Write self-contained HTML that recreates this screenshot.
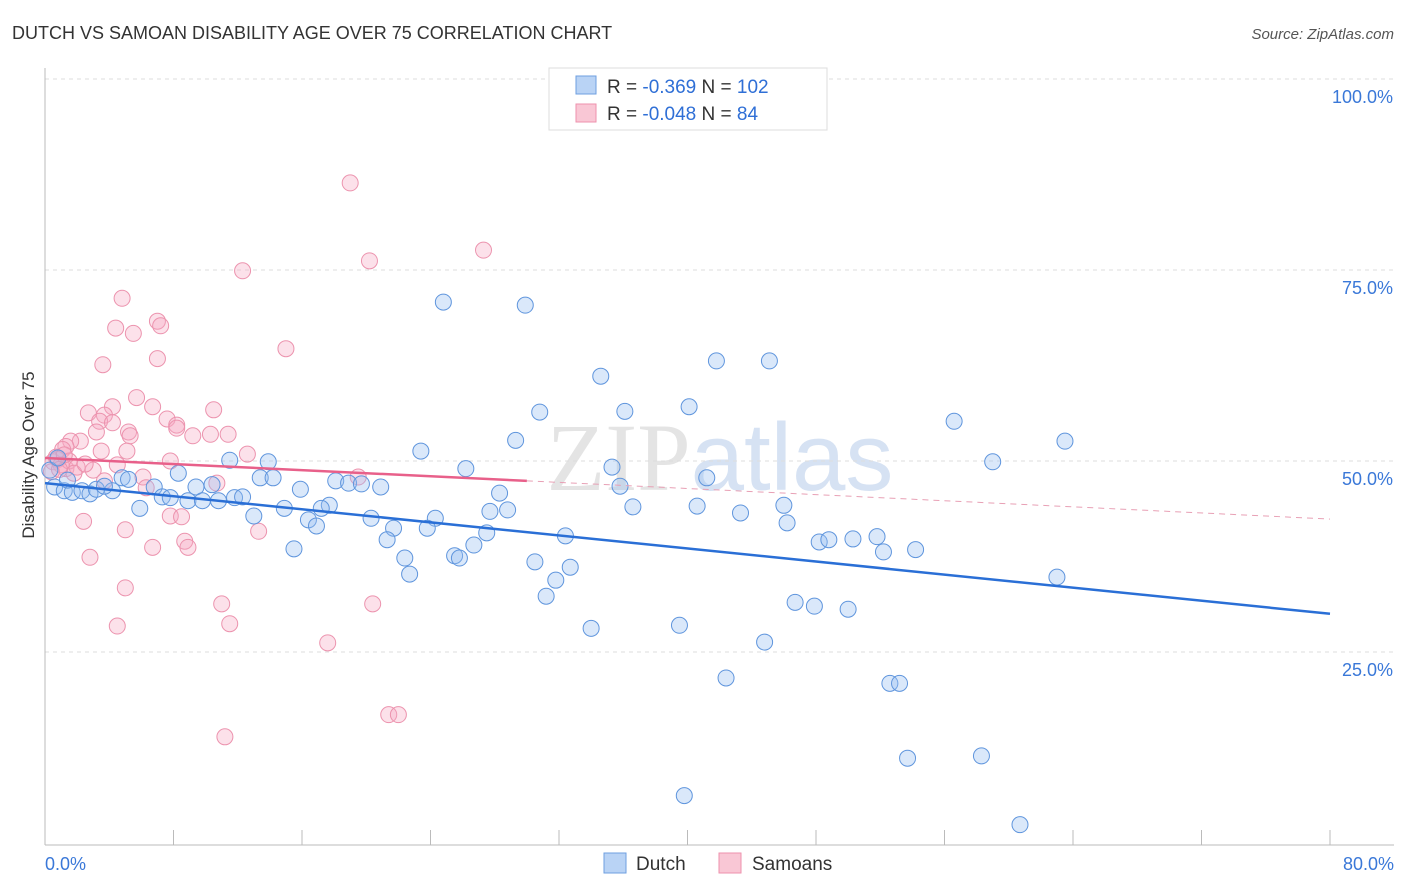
<!DOCTYPE html>
<html><head><meta charset="utf-8"><style>
body{margin:0;background:#fff;font-family:"Liberation Sans",sans-serif}
svg{display:block}
</style></head><body>
<svg id="c" width="1406" height="892">
<text x="12" y="39" font-size="18" fill="#333">DUTCH VS SAMOAN DISABILITY AGE OVER 75 CORRELATION CHART</text>
<text x="1394" y="39" font-size="15" fill="#555" font-style="italic" text-anchor="end">Source: ZipAtlas.com</text>
<text x="720" y="490" font-size="96" fill="#e4e4e4" text-anchor="middle" font-family="Liberation Serif">ZIP<tspan fill="#d6e2f3" font-family="Liberation Sans">atlas</tspan></text>
<g id="grid"></g><g id="marks"></g>
<text transform="translate(34,455) rotate(-90)" font-size="17" fill="#333" text-anchor="middle">Disability Age Over 75</text>
<g>
<rect x="549" y="68" width="278" height="62" fill="#fff" stroke="#ddd"/>
<rect x="576" y="76" width="20" height="18" fill="#b9d3f5" stroke="#6e9fe0"/>
<rect x="576" y="104" width="20" height="18" fill="#f9c7d5" stroke="#ee92ad"/>
<text x="607" y="93" font-size="19" fill="#333">R = <tspan fill="#2f6fd6">-0.369</tspan>   N = <tspan fill="#2f6fd6">102</tspan></text>
<text x="607" y="120" font-size="19" fill="#333">R = <tspan fill="#2f6fd6">-0.048</tspan>   N = <tspan fill="#2f6fd6">  84</tspan></text>
</g>
<g>
<rect x="604" y="853" width="22" height="20" fill="#b9d3f5" stroke="#6e9fe0"/>
<text x="636" y="870" font-size="19" fill="#333">Dutch</text>
<rect x="719" y="853" width="22" height="20" fill="#f9c7d5" stroke="#ee92ad"/>
<text x="752" y="870" font-size="19" fill="#333">Samoans</text>
</g>
</svg>
<script>
const yTicks=[25,50,75,100];
const xTickLabels=["0.0%","80.0%"];
const dutchX=[24.8,29.9,41.8,45.1,34.6,40.1,30.8,36.1,56.6,63.5,23.4,29.3,59,35.3,26.2,41.2,35.8,11.5,13.9,8.3,13.4,14.2,4.8,6.8,10.4,9.4,15.9,18.1,18.9,19.7,20.9,28.3,7.3,7.8,8.9,9.8,10.8,11.8,12.3,14.9,17.7,17.2,5.9,13,16.4,16.9,20.3,24.3,27.7,28.8,36.6,40.6,43.3,46,46.2,21.7,23.8,21.3,27.5,32.4,26.7,25.5,25.8,22.4,15.5,30.5,32.7,31.8,22.7,31.2,48.2,48.8,50.3,51.8,52.2,54.2,46.7,47.9,50,63,34,39.5,44.8,42.4,52.6,53.2,53.7,58.3,39.8,60.7,0.6,1.2,1.7,2.3,2.8,3.2,4.2,3.7,0.3,0.8,1.4,5.2];
const dutchY=[70.8,70.4,63.1,63.1,61.1,57.1,56.4,56.5,55.2,52.6,51.3,52.7,49.9,49.2,49,47.8,46.7,50.1,49.9,48.4,47.8,47.8,47.8,46.6,46.9,46.6,46.3,47.4,47.1,47,46.6,45.8,45.3,45.2,44.8,44.8,44.8,45.2,45.3,43.8,44.2,43.8,43.8,42.8,42.3,41.5,42.5,42.5,43.4,43.6,44,44.1,43.2,44.2,41.9,41.2,41.2,39.7,40.6,40.2,39,37.6,37.3,37.3,38.5,36.8,36.1,34.4,35.2,32.3,39.4,39.7,39.8,40.1,38.1,38.4,31.5,31,30.6,34.8,28.1,28.5,26.3,21.6,20.9,20.9,11.1,11.4,6.2,2.4,46.6,46.1,45.9,46.1,45.7,46.3,46.1,46.7,48.8,50.4,47.5,47.6];
const samX=[19,27.3,20.2,12.3,4.8,7,7.2,4.4,5.5,15,3.6,7,5.7,4.2,2.7,6.7,7.6,8.2,8.2,10.5,3.7,3.4,4.2,5.2,5.3,3.2,9.2,10.3,11.4,2.2,1.6,1.3,1.1,3.5,5.1,12.6,7.8,4.5,3,6.1,3.7,10.7,6.3,19.5,2.4,7.8,8.5,5,8.7,8.9,6.7,13.3,2.8,5,11,20.4,4.5,11.5,17.6,21.4,22,11.2,0.5,0.8,1.0,1.3,0.4,0.7,1.5,2,1.8,0.9,1.2,2.5];
const samY=[86.4,77.6,76.2,74.9,71.3,68.3,67.7,67.4,66.7,64.7,62.6,63.4,58.3,57.1,56.3,57.1,55.5,54.7,54.3,56.7,56,55.2,55,53.8,53.3,53.8,53.3,53.5,53.5,52.6,52.6,51.9,51.5,51.3,51.3,50.9,50,49.5,48.8,47.9,47.4,47.1,46.5,47.9,42.1,42.8,42.7,41,39.5,38.7,38.7,40.8,37.4,33.4,31.3,31.3,28.4,28.7,26.2,16.8,16.8,13.9,49.9,50.2,49.5,49,48.6,50.5,50,49.2,48.4,48.9,50.8,49.6];
const dutchLine=[47.1,30.0], samLine=[50.4,42.4], samSolidEnd=30;
const NS="http://www.w3.org/2000/svg";
const X=v=>45+v/80*1285, Y=v=>843-v/100*764;
function el(t,a,p){const e=document.createElementNS(NS,t);for(const k in a)e.setAttribute(k,a[k]);p.appendChild(e);return e;}
const g=document.getElementById('grid'), m=document.getElementById('marks');
yTicks.forEach(t=>{
 const l=el('line',{x1:45,x2:1394,y1:Y(t),y2:Y(t),stroke:'#ddd','stroke-dasharray':'4,4'},g);
 
 
 const tx=el('text',{x:1393,y:Y(t)+24,'font-size':18,fill:'#3a78d8','text-anchor':'end'},g);
 tx.textContent=t.toFixed(1)+'%';
 
 
});
el('line',{x1:45,x2:45,y1:68,y2:845,stroke:'#bbb'},g);
el('line',{x1:45,x2:1394,y1:845,y2:845,stroke:'#bbb'},g);
for(let i=1;i<=10;i++){const xx=X(i*8);const t=el('line',{x1:xx,x2:xx,y1:830,y2:845,stroke:'#bbb'},g);}
[[0,'start',45],[80,'end',1394]].forEach((d,i)=>{const t=el('text',{x:d[2],y:870,'font-size':18,fill:'#3a78d8','text-anchor':d[1]},g);t.textContent=xTickLabels[i];});
samX.forEach((v,i)=>{const c=el('circle',{cx:X(v),cy:Y(samY[i]),r:8,fill:'rgba(247,170,194,0.35)',stroke:'#ec93ae','stroke-width':1},m);});
dutchX.forEach((v,i)=>{const c=el('circle',{cx:X(v),cy:Y(dutchY[i]),r:8,fill:'rgba(150,190,240,0.35)',stroke:'#5f95dd','stroke-width':1},m);});
const sy=x=>samLine[0]+(samLine[1]-samLine[0])*x/80;
let l=el('line',{x1:X(0),y1:Y(dutchLine[0]),x2:X(80),y2:Y(dutchLine[1]),stroke:'#2a6fd6','stroke-width':2.5},m);

l=el('line',{x1:X(0),y1:Y(sy(0)),x2:X(samSolidEnd),y2:Y(sy(samSolidEnd)),stroke:'#e8608a','stroke-width':2.5},m);

l=el('line',{x1:X(samSolidEnd),y1:Y(sy(samSolidEnd)),x2:X(80),y2:Y(sy(80)),stroke:'#e8a0b5','stroke-width':1,'stroke-dasharray':'6,5'},m);

</script>
</body></html>
